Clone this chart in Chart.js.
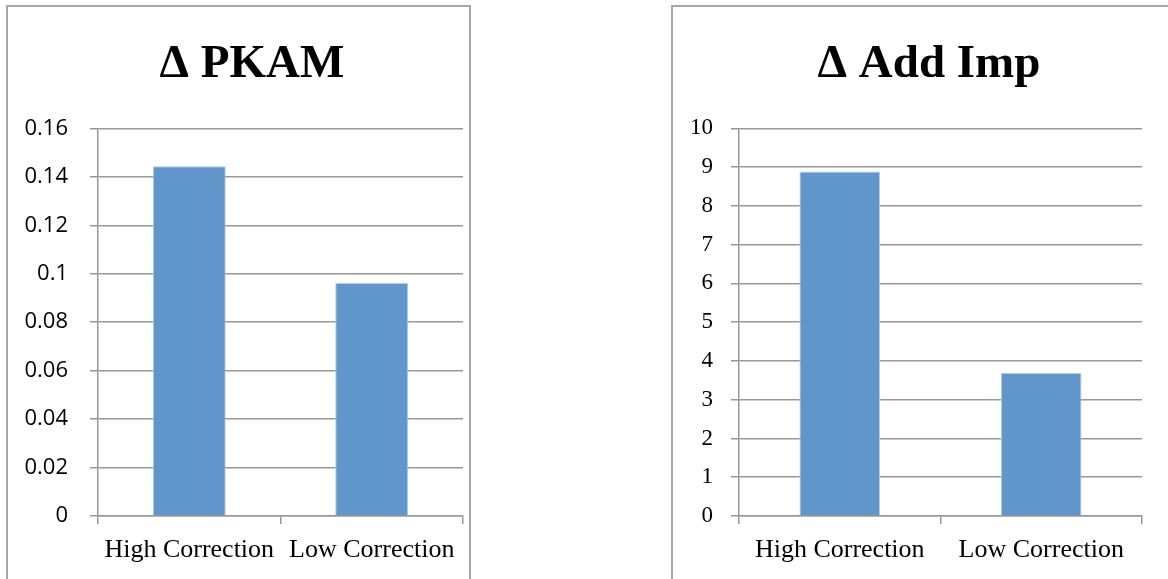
<!DOCTYPE html>
<html>
<head>
<meta charset="utf-8">
<script src="https://cdn.jsdelivr.net/npm/chart.js@4.4.1/dist/chart.umd.min.js"></script>
<style>
  html, body { margin: 0; padding: 0; background: #fff; overflow: hidden; width: 1168px; height: 579px; }
  .box { position: absolute; border: 2px solid #a6a6a6; box-sizing: border-box; }
  canvas { position: absolute; }
</style>
</head>
<body>
<div class="box" style="left:6px; top:5px; width:465px; height:640px;"></div>
<div class="box" style="left:671px; top:5px; width:600px; height:640px;"></div>
<canvas id="pkam" width="488" height="572" style="left:8px; top:7px;"></canvas>
<canvas id="addimp" width="478" height="572" style="left:690px; top:7px;"></canvas>
<script>
// values
const categories = ["High Correction", "Low Correction"];
const pkamValues = [0.1444, 0.0962];
const addImpValues = [8.89, 3.69];
const pkamTickLabels = ["0", "0.02", "0.04", "0.06", "0.08", "0.1", "0.12", "0.14", "0.16"];
const addImpTickLabels = ["0", "1", "2", "3", "4", "5", "6", "7", "8", "9", "10"];

const serif = '"Liberation Serif", "Times New Roman", serif';
const sans = '"Open Sans", "Noto Sans", sans-serif';
const gridColor = "#979797";

function makeChart(id, title, values, tickLabels, maxY, step, yFont, yPad, yWidth, rightWidth) {
  const ctx = document.getElementById(id);
  return new Chart(ctx, {
    type: "bar",
    data: {
      labels: categories,
      datasets: [{
        data: values,
        backgroundColor: "#6096c9",
        borderColor: "#b4cce6",
        borderWidth: 1,
        barPercentage: 0.4,
        categoryPercentage: 1.0
      }]
    },
    options: {
      responsive: false,
      animation: false,
      layout: { padding: 0 },
      plugins: {
        legend: { display: false },
        tooltip: { enabled: false },
        title: {
          display: true,
          text: title,
          color: "#000",
          font: { family: serif, size: 47, weight: "bold", lineHeight: 1.2 },
          padding: { top: 30, bottom: 35 }
        }
      },
      scales: {
        x: {
          grid: { display: true, drawOnChartArea: false, drawTicks: true, tickLength: 8, color: gridColor, lineWidth: 1.5 },
          border: { display: true, color: gridColor, width: 1.5 },
          ticks: { color: "#000", font: { family: serif, size: 26 }, padding: 11, maxRotation: 0, autoSkip: false },
          afterFit: function(s) { s.height = 63; }
        },
        y: {
          min: 0,
          max: maxY,
          ticks: {
            stepSize: step,
            color: "#000",
            font: yFont,
            padding: yPad,
            callback: function(value, index) { return tickLabels[index]; }
          },
          grid: { color: gridColor, lineWidth: 1.5, tickLength: 8 },
          border: { display: true, color: gridColor, width: 1.5 },
          afterFit: function(s) { s.width = yWidth; }
        },
        // empty axis on the right, only there to leave room so the title sits like the original
        spacer: {
          axis: "y",
          position: "right",
          grid: { display: false },
          border: { display: false },
          ticks: { display: false },
          afterFit: function(s) { s.width = rightWidth; }
        }
      }
    }
  });
}

makeChart("pkam", "\u0394 PKAM", pkamValues, pkamTickLabels, 0.16, 0.02,
  { family: sans, size: 22 }, 22, 90, 33);
makeChart("addimp", "\u0394 Add Imp", addImpValues, addImpTickLabels, 10, 1,
  { family: serif, size: 23 }, 18, 49, 26);
</script>
</body>
</html>
